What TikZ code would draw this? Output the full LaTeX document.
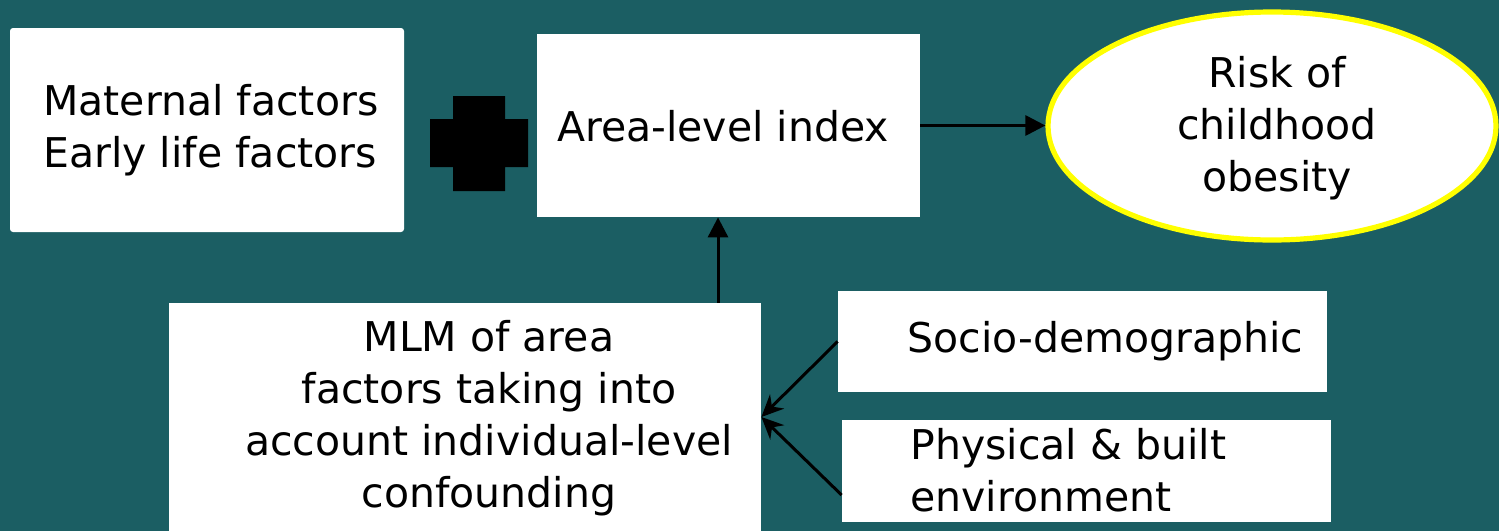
\documentclass[tikz,border=0pt]{standalone}
\usepackage{fontspec}
\setmainfont{DejaVu Sans}
\usetikzlibrary{arrows.meta,shapes.geometric}
\definecolor{bgteal}{RGB}{27,94,99}
\definecolor{ringyellow}{RGB}{255,255,0}
\tikzset{
  whitebox/.style={draw=none,fill=white,inner sep=0pt},
  lbl/.style={inner sep=0pt,font=\fontsize{20.5pt}{26pt}\selectfont,text=black},
  arr/.style={line width=1.5pt,-{Triangle[length=10pt,width=10pt]}},
  darr/.style={line width=1.5pt,-{Stealth[length=11pt,width=10pt]}}
}
\begin{document}
\begin{tikzpicture}[x=0.5pt,y=-0.5pt]
\fill[bgteal] (0,0) rectangle (1499,531);
\useasboundingbox (0,0) rectangle (1499,531);

% boxes
\node[whitebox,rounded corners=1.5pt,minimum width=197pt,minimum height=102pt] (mat) at (207,130) {};
\node[lbl,anchor=west,align=left] (mattext) at (43,130) {Maternal factors\\Early life factors};

\node[whitebox,minimum width=191.5pt,minimum height=91.5pt] (area) at (728.5,125.5) {};
\node[lbl] (areatext) at (723,126) {Area-level index};

\node[ellipse,draw=ringyellow,line width=2.6pt,fill=white,inner sep=0pt,
      minimum width=224pt,minimum height=114pt] (risk) at (1272,126) {};
\node[lbl,align=center] (risktext) at (1277,128) {Risk of\\childhood\\obesity};

\node[whitebox,minimum width=296pt,minimum height=114pt] (mlm) at (465,417) {};
\node[lbl,align=center] (mlmtext) at (489,418) {MLM of area\\factors taking into\\account individual-level\\confounding};

\node[whitebox,minimum width=244.5pt,minimum height=50.5pt] (socio) at (1082.5,341.5) {};
\node[lbl,anchor=west] (sociotext) at (907,341) {Socio-demographic};

\node[whitebox,minimum width=244.5pt,minimum height=51pt] (phys) at (1086.5,471) {};
\node[lbl,anchor=west,align=left] (phystext) at (910,470) {Physical \& built\\environment};

% plus sign
\fill[black] (453,96) -- (505,96) -- (505,119) -- (528,119) -- (528,167) -- (505,167)
  -- (505,191) -- (453,191) -- (453,167) -- (430,167) -- (430,119) -- (453,119) -- cycle;

% connectors
\coordinate (upx) at (718,0);
\draw[arr] (area.east) -- (area.east -| risk.west);
\draw[arr] (mlm.north -| upx) -- (area.south -| upx);
\draw[darr] (socio.west) -- (mlm.east);
\draw[darr] ([yshift=-12pt]phys.west) -- (mlm.east);
\end{tikzpicture}
\end{document}
